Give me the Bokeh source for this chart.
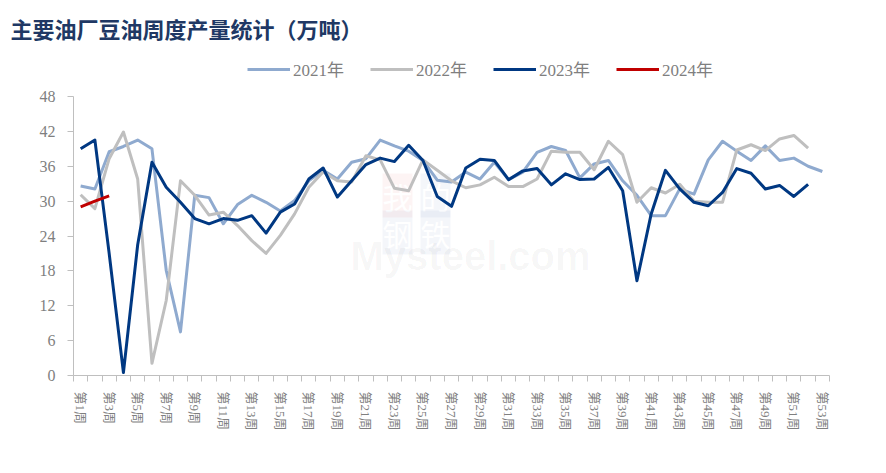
from bokeh.plotting import figure
from bokeh.models import (Range1d, FixedTicker, Legend, LegendItem, Label, Title, ColumnDataSource)
from bokeh.embed import file_html
from bokeh.resources import INLINE

# ---------------- data ----------------
title_text = "主要油厂豆油周度产量统计（万吨）"
week_labels = ["第1周", "第2周", "第3周", "第4周", "第5周", "第6周", "第7周", "第8周", "第9周", "第10周",
               "第11周", "第12周", "第13周", "第14周", "第15周", "第16周", "第17周", "第18周", "第19周", "第20周",
               "第21周", "第22周", "第23周", "第24周", "第25周", "第26周", "第27周", "第28周", "第29周", "第30周",
               "第31周", "第32周", "第33周", "第34周", "第35周", "第36周", "第37周", "第38周", "第39周", "第40周",
               "第41周", "第42周", "第43周", "第44周", "第45周", "第46周", "第47周", "第48周", "第49周", "第50周",
               "第51周", "第52周", "第53周"]

y2021 = [32.6, 32.1, 38.5, 39.4, 40.5, 39.0, 18.1, 7.5, 31.0, 30.6,
         26.1, 29.4, 31.0, 29.8, 28.3, 30.1, 33.5, 35.3, 33.8, 36.7,
         37.3, 40.5, 39.5, 38.6, 37.0, 33.6, 33.3, 35.0, 33.8, 36.7,
         33.7, 35.0, 38.4, 39.4, 38.7, 34.0, 36.4, 37.0, 33.5, 31.0,
         27.5, 27.5, 32.1, 31.2, 37.1, 40.3, 38.6, 37.0, 39.5, 37.0,
         37.4, 36.0, 35.1]
y2022 = [31.1, 28.7, 37.3, 41.9, 33.8, 2.1, 12.9, 33.5, 31.0, 27.6,
         28.1, 25.8, 23.2, 21.0, 24.1, 27.8, 32.4, 35.0, 33.5, 33.3,
         37.8, 37.1, 32.2, 31.8, 37.1, 35.3, 33.5, 32.3, 32.8, 34.1,
         32.5, 32.5, 33.8, 38.6, 38.4, 38.4, 35.4, 40.3, 38.0, 29.8,
         32.3, 31.4, 32.9, 30.0, 29.8, 29.8, 38.8, 39.7, 38.7, 40.7,
         41.3, 39.1]
y2023 = [39.0, 40.5, 21.0, 0.5, 22.5, 36.7, 32.4, 29.8, 27.0, 26.1,
         27.0, 26.7, 27.5, 24.5, 28.1, 29.5, 33.8, 35.7, 30.7, 33.5,
         36.3, 37.4, 36.8, 39.6, 37.0, 30.8, 29.1, 35.7, 37.2, 37.0,
         33.7, 35.2, 35.6, 32.8, 34.7, 33.7, 33.8, 35.8, 31.8, 16.3,
         27.8, 35.3, 32.1, 29.8, 29.2, 31.5, 35.6, 34.8, 32.1, 32.7,
         30.8, 32.9]
y2024 = [29.0, 30.0, 30.9]

series_names = ["2021年", "2022年", "2023年", "2024年"]
series_values = [y2021, y2022, y2023, y2024]
series_colors = ["#8FAACF", "#BFBFBF", "#003882", "#C00000"]
y_ticks = [0, 6, 12, 18, 24, 30, 36, 42, 48]
y_axis_max = 48

# ---------------- figure ----------------
n = len(week_labels)
frame_top = 46        # px from canvas top (frame extended to hold the legend)
axis_top = 96         # px where the value 48 sits
frame_bottom = 375
px_per_unit = (frame_bottom - axis_top) / y_axis_max
y_top = y_axis_max + (axis_top - frame_top) / px_per_unit

p = figure(width=886, height=473, output_backend="svg", toolbar_location=None,
           x_range=Range1d(0.5, n + 0.5), y_range=Range1d(0, y_top),
           min_border_left=73, min_border_right=57, min_border_top=frame_top,
           min_border_bottom=473 - frame_bottom)
p.outline_line_color = None
p.xgrid.visible = False
p.ygrid.visible = False
p.background_fill_color = "white"
p.border_fill_color = "white"

axis_color = "#BFBFBF"
label_color = "#7F7F7F"
serif = "'Liberation Serif', 'Noto Sans CJK SC', serif"

# x axis
xt = FixedTicker(ticks=[i for i in range(1, n + 1, 2)],
                 minor_ticks=[i + 0.5 for i in range(0, n + 1)])
p.xaxis.ticker = xt
p.xaxis.major_label_overrides = {i: week_labels[i - 1] for i in range(1, n + 1, 2)}
p.xaxis.major_label_orientation = "vertical"
p.xaxis.axis_line_color = axis_color
p.xaxis.major_tick_line_color = None
p.xaxis.major_tick_out = 0
p.xaxis.major_tick_in = 0
p.xaxis.minor_tick_line_color = axis_color
p.xaxis.minor_tick_out = 6
p.xaxis.minor_tick_in = 0
p.xaxis.major_label_standoff = 10
p.xaxis.major_label_text_font = serif
p.xaxis.major_label_text_font_size = "13px"
p.xaxis.major_label_text_color = label_color

# y axis
p.yaxis.ticker = FixedTicker(ticks=y_ticks, minor_ticks=[])
p.yaxis.bounds = (0, y_axis_max)
p.yaxis.axis_line_color = axis_color
p.yaxis.major_tick_line_color = axis_color
p.yaxis.major_tick_out = 6
p.yaxis.major_tick_in = 0
p.yaxis.minor_tick_line_color = None
p.yaxis.major_label_standoff = 12
p.yaxis.major_label_text_font = serif
p.yaxis.major_label_text_font_size = "16px"
p.yaxis.major_label_text_color = label_color

# watermark (faint, beneath the lines)
for txt, xs, ys, bg in [("我", 309, 158, "#E03030"), ("的", 347, 158, "#3050A0"),
                        ("钢", 309, 121, "#3050A0"), ("铁", 347, 121, "#3050A0")]:
    p.add_layout(Label(x=xs, y=ys, x_units="screen", y_units="screen", text=txt, level="underlay",
                       text_font="'Noto Sans CJK SC'", text_font_size="30px",
                       text_color="#FFFFFF", background_fill_color=bg, background_fill_alpha=0.05))
p.add_layout(Label(x=277, y=98, x_units="screen", y_units="screen", text="Mysteel.com", level="underlay",
                   text_font="Arial, 'Liberation Sans'", text_font_size="40px", text_font_style="bold",
                   text_color="#000000", text_alpha=0.035))

# lines
items = []
for name, vals, col in zip(series_names, series_values, series_colors):
    src = ColumnDataSource(data=dict(x=list(range(1, len(vals) + 1)), y=vals))
    r = p.line("x", "y", source=src, line_color=col, line_width=3, line_join="round")
    items.append(LegendItem(label=name, renderers=[r]))

legend = Legend(items=items, orientation="horizontal", location=(174, 294),
                glyph_width=43, glyph_height=20, label_standoff=3, spacing=26,
                padding=0, margin=0, border_line_color=None, background_fill_alpha=0,
                label_text_font=serif, label_text_font_size="17px", label_text_color=label_color)
p.add_layout(legend)

title = Title(text=title_text, align="left", offset=-63, standoff=6,
              text_font="'Noto Sans CJK SC'", text_font_size="22px", text_font_style="bold",
              text_color="#203864")
p.add_layout(title, "above")

open("out.html", "w").write(file_html(p, INLINE))
